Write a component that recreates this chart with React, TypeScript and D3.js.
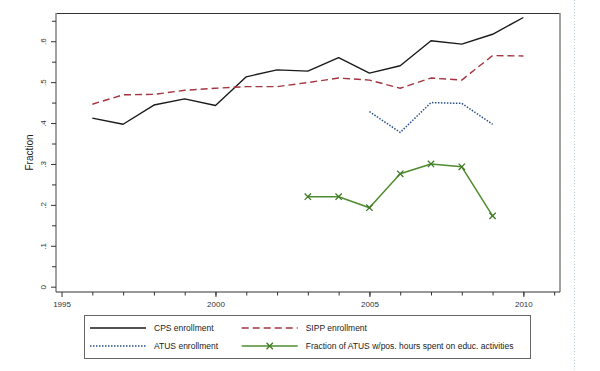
import React, { useEffect, useRef } from 'react';
import * as d3 from 'd3';

const cpsYears = [1996, 1997, 1998, 1999, 2000, 2001, 2002, 2003, 2004, 2005, 2006, 2007, 2008, 2009, 2010];
const cpsValues = [0.412, 0.397, 0.444, 0.459, 0.443, 0.513, 0.53, 0.527, 0.56, 0.522, 0.54, 0.601, 0.593, 0.617, 0.658];
const sippValues = [0.446, 0.469, 0.47, 0.48, 0.485, 0.489, 0.489, 0.499, 0.51, 0.505, 0.485, 0.51, 0.505, 0.565, 0.564];
const atusYears = [2005, 2006, 2007, 2008, 2009];
const atusValues = [0.428, 0.377, 0.45, 0.448, 0.397];
const educYears = [2003, 2004, 2005, 2006, 2007, 2008, 2009];
const educValues = [0.22, 0.22, 0.193, 0.276, 0.3, 0.293, 0.173];
const yTicks = [0, 0.1, 0.2, 0.3, 0.4, 0.5, 0.6];
const xTicks = [1995, 2000, 2005, 2010];
const legendLabels = [
  'CPS enrollment',
  'SIPP enrollment',
  'ATUS enrollment',
  'Fraction of ATUS w/pos. hours spent on educ. activities',
];

const FONT = '"Liberation Sans", Arial, sans-serif';

export default function App() {
  const ref = useRef(null);

  useEffect(() => {
    const svg = d3.select(ref.current);
    svg.selectAll('*').remove();

    const plot = { left: 56, right: 560, top: 13, bottom: 292 };
    const x = d3.scaleLinear().domain([1994.82, 2011.19]).range([plot.left, plot.right]);
    const y = d3.scaleLinear().domain([-0.013, 0.669]).range([plot.bottom, plot.top]);

    // faint dotted page edge on the right
    svg.append('line')
      .attr('x1', 574.5).attr('x2', 574.5).attr('y1', 0).attr('y2', 371)
      .attr('stroke', '#bcd3da').attr('stroke-dasharray', '1,2');

    // frame
    svg.append('line').attr('x1', plot.left).attr('x2', plot.right).attr('y1', plot.top + 0.5).attr('y2', plot.top + 0.5)
      .attr('stroke', '#333').attr('stroke-width', 1);
    svg.append('line').attr('x1', plot.right).attr('x2', plot.right).attr('y1', plot.top).attr('y2', plot.bottom)
      .attr('stroke', '#8a8a8a').attr('stroke-width', 1.6);
    svg.append('line').attr('x1', plot.left).attr('x2', plot.left).attr('y1', plot.top).attr('y2', plot.bottom)
      .attr('stroke', '#8a8a8a').attr('stroke-width', 1.6);
    svg.append('line').attr('x1', plot.left).attr('x2', plot.right).attr('y1', plot.bottom).attr('y2', plot.bottom)
      .attr('stroke', '#333').attr('stroke-width', 1);

    // y axis
    const yMinor = svg.append('g').attr('transform', `translate(${plot.left},0)`)
      .call(d3.axisLeft(y).tickValues(d3.range(0.05, 0.66, 0.1)).tickSize(4).tickFormat(() => ''));
    yMinor.select('.domain').remove();
    const yAxis = svg.append('g').attr('transform', `translate(${plot.left},0)`)
      .call(d3.axisLeft(y).tickValues(yTicks).tickSize(5).tickFormat((d) => (d === 0 ? '0' : d3.format('.1f')(d).replace(/^0/, ''))));
    yAxis.select('.domain').remove();
    svg.selectAll('.tick line').attr('stroke', '#333');
    yAxis.selectAll('.tick text')
      .attr('x', null).attr('dy', null)
      .attr('transform', 'translate(-10.5,0) rotate(-90)')
      .attr('text-anchor', 'middle')
      .attr('font-family', FONT).attr('font-size', 8).attr('fill', '#333');

    // x axis
    const xMinor = svg.append('g').attr('transform', `translate(0,${plot.bottom})`)
      .call(d3.axisBottom(x).tickValues(d3.range(1996, 2012)).tickSize(3.5).tickFormat(() => ''));
    xMinor.select('.domain').remove();
    const xAxis = svg.append('g').attr('transform', `translate(0,${plot.bottom})`)
      .call(d3.axisBottom(x).tickValues(xTicks).tickSize(5).tickFormat(d3.format('d')));
    xAxis.select('.domain').remove();
    svg.selectAll('.tick line').attr('stroke', '#333');
    xAxis.selectAll('.tick text')
      .attr('y', 15).attr('dy', null)
      .attr('font-family', FONT).attr('font-size', 8).attr('fill', '#333');

    svg.append('text')
      .attr('transform', `translate(33,${(plot.top + plot.bottom) / 2}) rotate(-90)`)
      .attr('text-anchor', 'middle')
      .attr('font-family', FONT).attr('font-size', 10).attr('fill', '#222')
      .text('Fraction');

    const line = d3.line().x((d) => x(d[0])).y((d) => y(d[1]));
    const zip = (xs, vs) => xs.map((v, i) => [v, vs[i]]);

    const cps = zip(cpsYears, cpsValues);
    const sipp = zip(cpsYears, sippValues);
    const atus = zip(atusYears, atusValues);
    const educ = zip(educYears, educValues);

    const series = [
      { data: cps, stroke: '#1a1a1a', width: 1.4, dash: null },
      { data: sipp, stroke: '#a33540', width: 1.4, dash: '7,4' },
      { data: atus, stroke: '#2a4f86', width: 1.5, dash: '1.5,1.5' },
      { data: educ, stroke: '#4f8b2f', width: 1.5, dash: null },
    ];

    series.forEach((s) => {
      svg.append('path')
        .attr('d', line(s.data))
        .attr('fill', 'none')
        .attr('stroke', s.stroke)
        .attr('stroke-width', s.width)
        .attr('stroke-dasharray', s.dash)
        .attr('stroke-linejoin', 'round');
    });

    const cross = d3.symbol().type(d3.symbolX).size(28);
    svg.append('g').selectAll('path')
      .data(educ)
      .join('path')
      .attr('transform', (d) => `translate(${x(d[0])},${y(d[1])})`)
      .attr('d', cross())
      .attr('fill', 'none')
      .attr('stroke', '#3f7a24')
      .attr('stroke-width', 1.3);

    // legend
    const lg = svg.append('g');
    lg.append('rect')
      .attr('x', 84.5).attr('y', 315.5).attr('width', 446).attr('height', 43)
      .attr('fill', 'none').attr('stroke', '#666').attr('stroke-width', 1);
    const cols = [90, 241.7];
    const rows = [328, 346];
    legendLabels.forEach((label, i) => {
      const s = series[i];
      const cx = cols[i % 2];
      const cy = rows[Math.floor(i / 2)];
      const item = lg.append('g');
      item.append('line')
        .attr('x1', cx).attr('x2', cx + 56).attr('y1', cy).attr('y2', cy)
        .attr('stroke', s.stroke).attr('stroke-width', s.width)
        .attr('stroke-dasharray', s.dash);
      if (i === 3) {
        item.append('path')
          .attr('transform', `translate(${cx + 28},${cy})`)
          .attr('d', cross())
          .attr('fill', 'none').attr('stroke', '#3f7a24').attr('stroke-width', 1.3);
      }
      item.append('text')
        .attr('x', cx + 64).attr('y', cy + 3)
        .attr('font-family', FONT).attr('font-size', 8.5).attr('fill', '#222')
        .text(label);
    });
  }, []);

  return (
    <svg
      ref={ref}
      width={600}
      height={371}
      style={{ position: 'absolute', left: 0, top: 0, background: '#fff' }}
    />
  );
}
